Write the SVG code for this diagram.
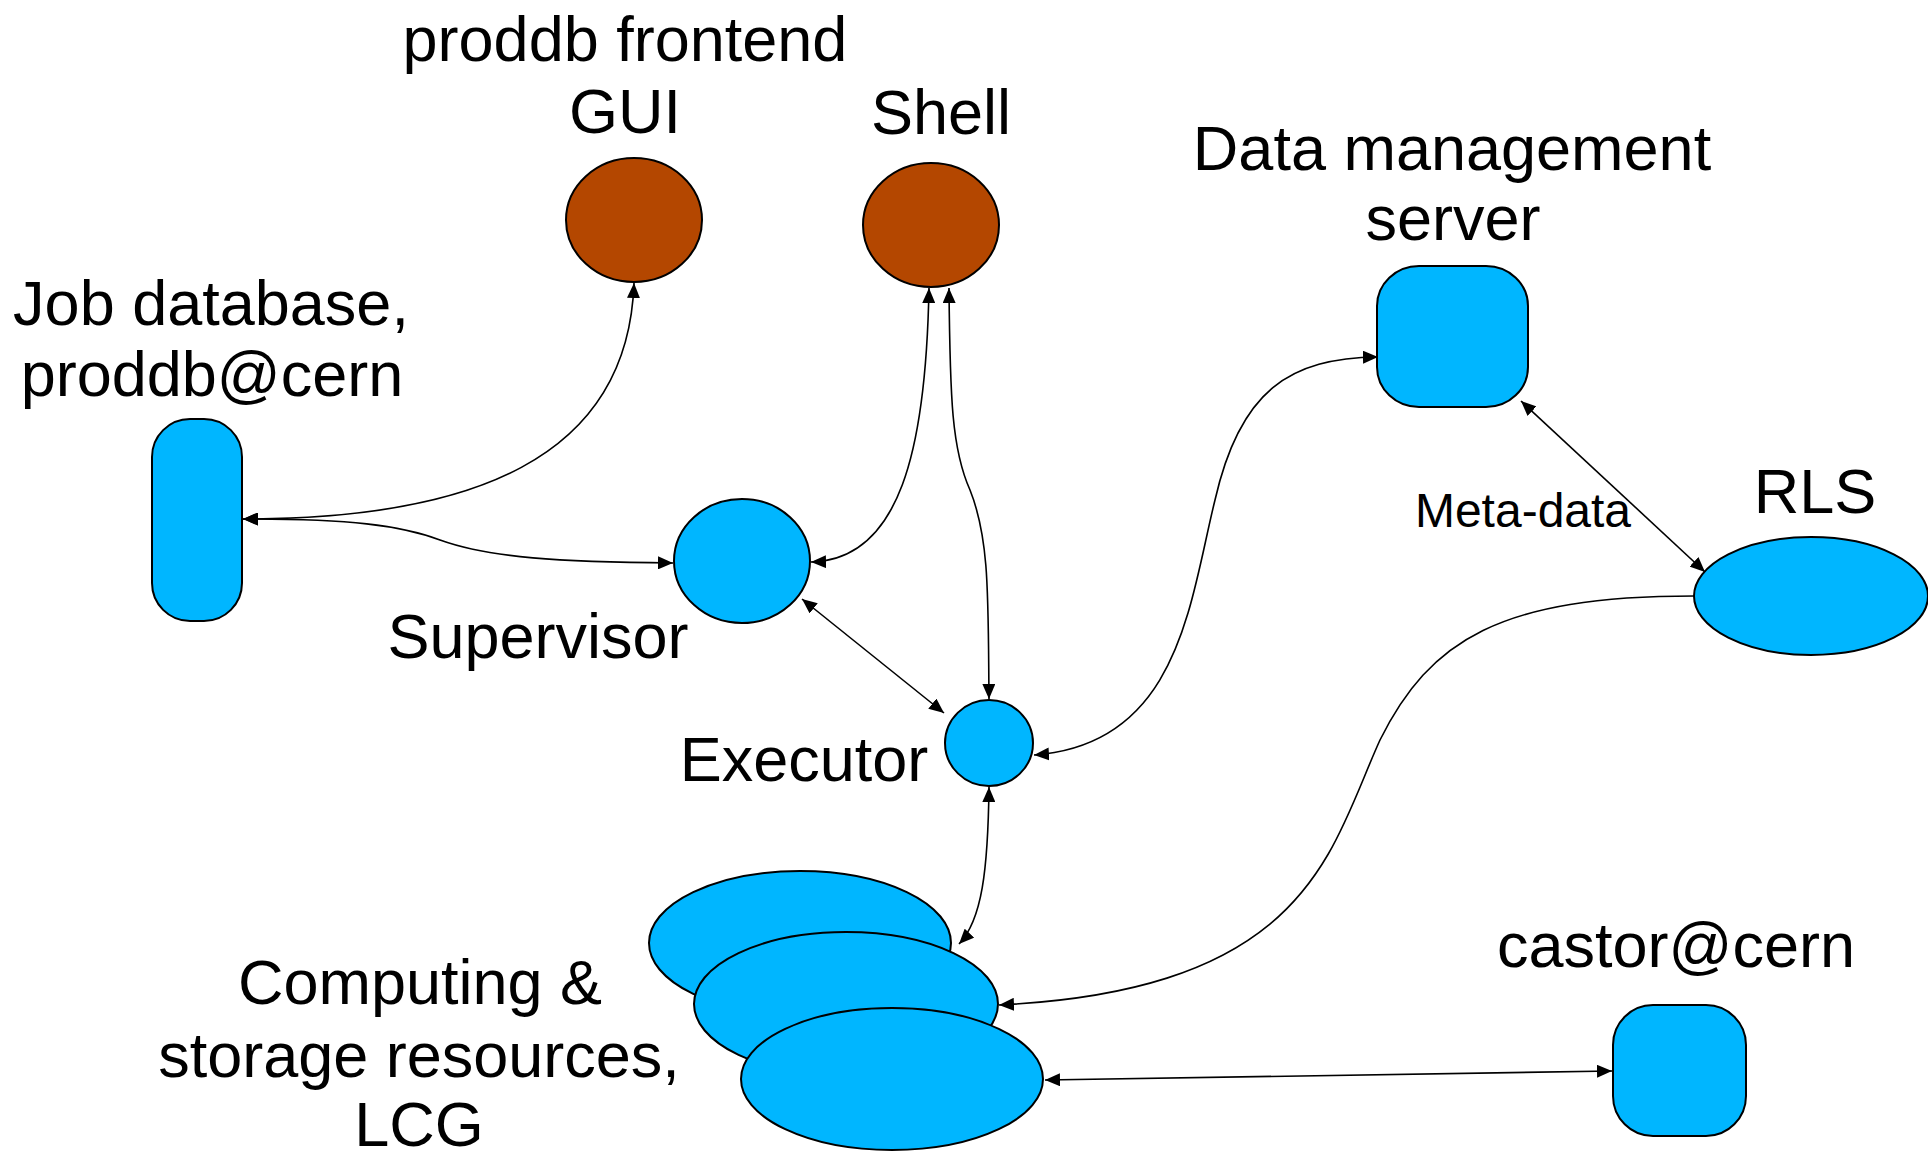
<svg xmlns="http://www.w3.org/2000/svg" width="1928" height="1151" viewBox="0 0 1928 1151">
  <style>
    .lbl { font-family: "Liberation Sans", Arial, sans-serif; font-size: 63px; fill: #000; text-anchor: middle; }
    .small { font-size: 48px; }
    .blue { fill: #00B6FF; stroke: #000; stroke-width: 2; }
    .brown { fill: #B44700; stroke: #000; stroke-width: 2; }
    .conn { fill: none; stroke: #000; stroke-width: 1.6; marker-start: url(#arr); marker-end: url(#arr); }
    .oneway { marker-start: none; }
  </style>
  <defs>
    <marker id="arr" viewBox="0 0 15 13" refX="15" refY="6.5" markerWidth="15" markerHeight="13" markerUnits="userSpaceOnUse" orient="auto-start-reverse">
      <path d="M0,0 L15,6.5 L0,13 z" fill="#000"/>
    </marker>
  </defs>
  <rect width="1928" height="1151" fill="#fff"/>

  <g id="gui">
    <ellipse class="brown" cx="634" cy="220" rx="68" ry="62"/>
    <text class="lbl" x="625" y="61">proddb frontend</text>
    <text class="lbl" x="625" y="133">GUI</text>
  </g>
  <g id="shell">
    <ellipse class="brown" cx="931" cy="225" rx="68" ry="62"/>
    <text class="lbl" x="941" y="134">Shell</text>
  </g>
  <g id="jobdb">
    <rect class="blue" x="152" y="419" width="90" height="202" rx="38" ry="38"/>
    <text class="lbl" x="211" y="325">Job database,</text>
    <text class="lbl" x="212" y="396">proddb@cern</text>
  </g>
  <g id="supervisor">
    <ellipse class="blue" cx="742" cy="561" rx="68" ry="62"/>
    <text class="lbl" x="538" y="658">Supervisor</text>
  </g>
  <g id="executor">
    <ellipse class="blue" cx="989" cy="743" rx="44" ry="43"/>
    <text class="lbl" x="804" y="781">Executor</text>
  </g>
  <g id="dms">
    <rect class="blue" x="1377" y="266" width="151" height="141" rx="42" ry="40"/>
    <text class="lbl" x="1452" y="170">Data management</text>
    <text class="lbl" x="1453" y="240">server</text>
  </g>
  <g id="rls">
    <ellipse class="blue" cx="1811" cy="596" rx="117" ry="59"/>
    <text class="lbl" x="1815" y="513">RLS</text>
  </g>
  <g id="castor">
    <rect class="blue" x="1613" y="1005" width="133" height="131" rx="40" ry="40"/>
    <text class="lbl" x="1676" y="967">castor@cern</text>
  </g>
  <g id="lcg">
    <ellipse class="blue" cx="800" cy="943" rx="151" ry="72"/>
    <ellipse class="blue" cx="846" cy="1004" rx="152" ry="72"/>
    <ellipse class="blue" cx="892" cy="1079" rx="151" ry="71"/>
    <text class="lbl" x="420" y="1004">Computing &amp;</text>
    <text class="lbl" x="419" y="1077">storage resources,</text>
    <text class="lbl" x="419" y="1146">LCG</text>
  </g>

  <g id="connectors">
    <path class="conn" d="M243,519 C470,519 628,460 634,283"/>
    <path class="conn" d="M243,519 C350,519 400,525 440,540 C490,558 560,562 673,563"/>
    <path class="conn" d="M929,288 C926,450 900,560 811,562"/>
    <path class="conn" d="M949,288 C950,400 952,450 970,490 C990,540 988,600 989,699"/>
    <path class="conn" d="M802,599 L944,713"/>
    <path class="conn" d="M1034,755 C1180,745 1190,600 1215,500 C1240,390 1290,358 1378,357"/>
    <path class="conn" d="M1521,401 L1705,572"/>
    <path class="conn oneway" d="M1694,596 C1500,596 1430,640 1380,740 C1330,850 1310,990 999,1005"/>
    <path class="conn" d="M989,787 C988,870 982,920 959,944"/>
    <path class="conn" d="M1045,1080 L1612,1071" stroke-width="2.2"/>
    <text class="lbl small" x="1523" y="527">Meta-data</text>
  </g>
</svg>
